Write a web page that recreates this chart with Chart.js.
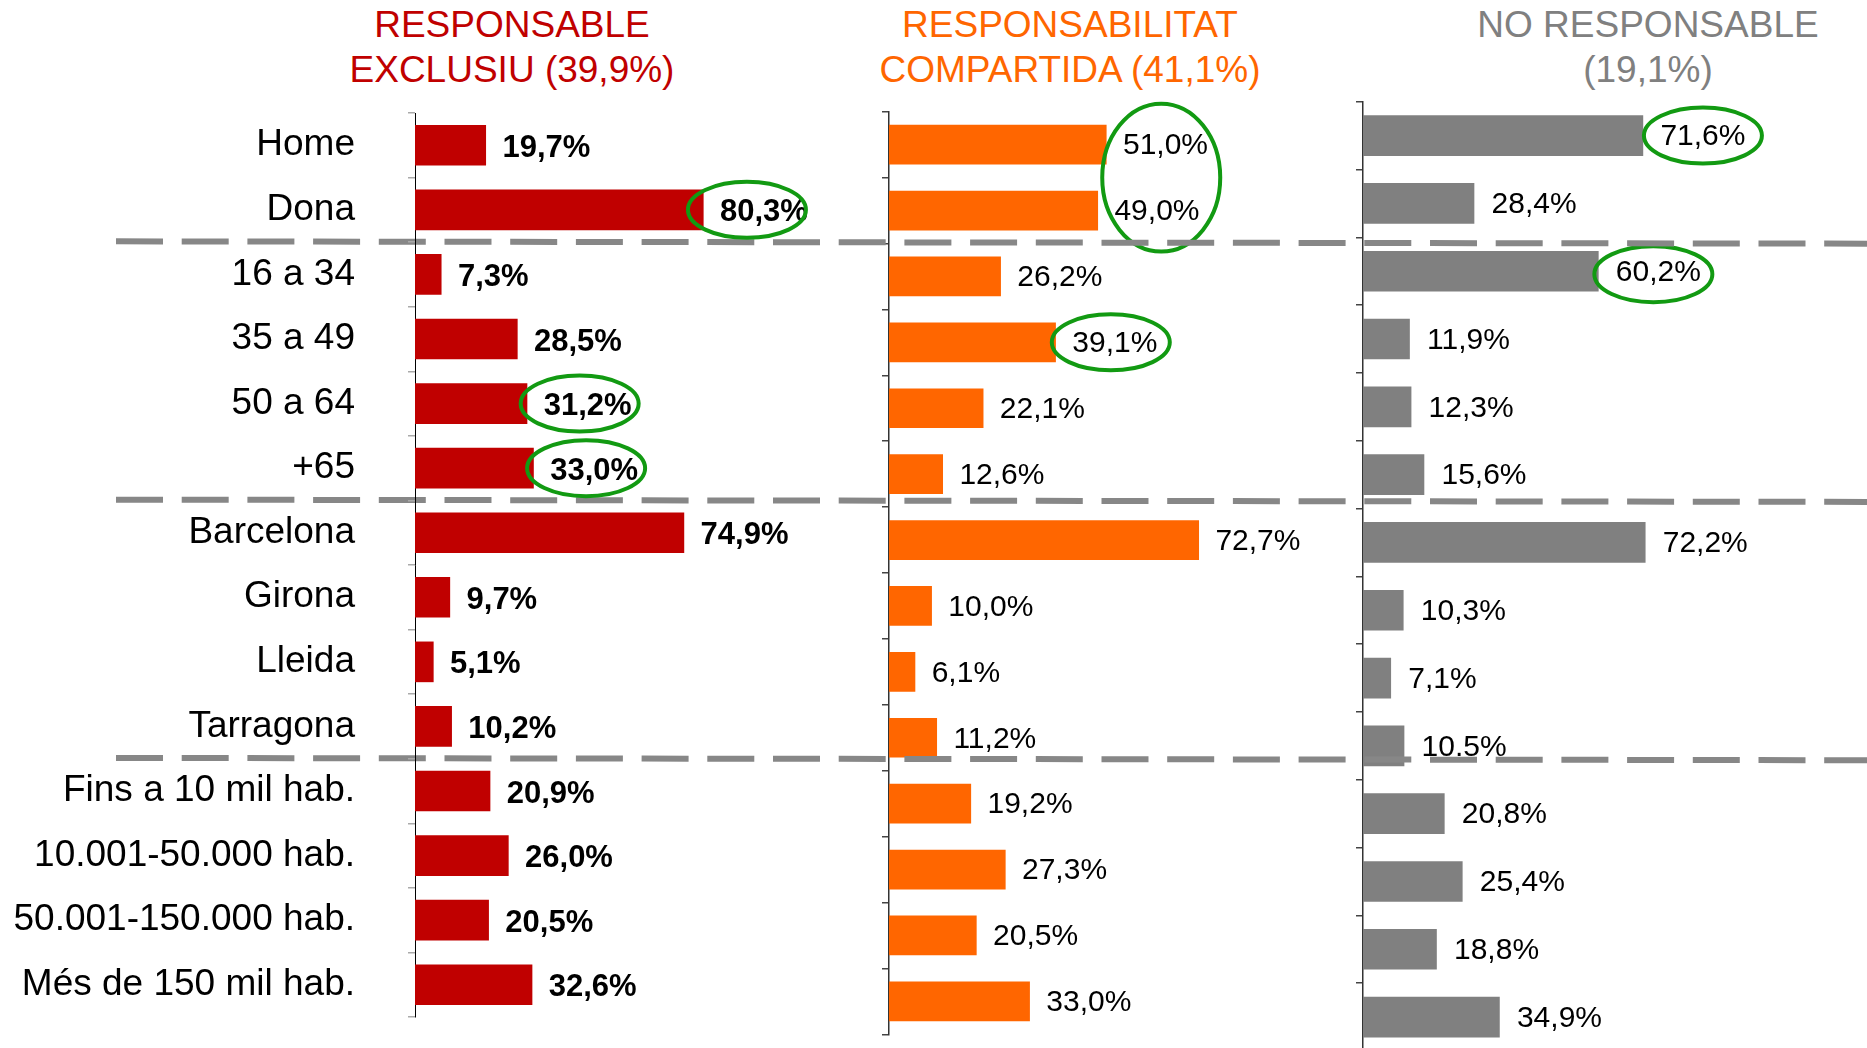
<!DOCTYPE html>
<html><head><meta charset="utf-8">
<script src="https://cdn.jsdelivr.net/npm/chart.js@4.4.1/dist/chart.umd.min.js"></script>
<style>
html,body{margin:0;padding:0;background:#fff;width:1867px;height:1048px;overflow:hidden;position:relative;}
canvas{position:absolute;left:0;top:0;}
.title{position:absolute;top:2px;width:600px;margin-left:-300px;text-align:center;font:37px "Liberation Sans",Arial,sans-serif;line-height:45px;white-space:nowrap;}
</style></head><body>
<div class="title" id="t0" style="left:512px;color:#C00000"></div>
<div class="title" id="t1" style="left:1070px;color:#FF6600"></div>
<div class="title" id="t2" style="left:1648px;color:#808080"></div>
<canvas id="cOrange" width="1867" height="1120" style="z-index:1"></canvas>
<canvas id="cGrey" width="1867" height="1140" style="z-index:2"></canvas>
<canvas id="cRed" width="1867" height="1110" style="z-index:3"></canvas>
<script>
// ---- data ----
const categories = ['Home','Dona','16 a 34','35 a 49','50 a 64','+65','Barcelona','Girona','Lleida','Tarragona',
  'Fins a 10 mil hab.','10.001-50.000 hab.','50.001-150.000 hab.','Més de 150 mil hab.'];
const exclusiu     = [19.7, 80.3, 7.3, 28.5, 31.2, 33.0, 74.9, 9.7, 5.1, 10.2, 20.9, 26.0, 20.5, 32.6];
const compartida   = [51.0, 49.0, 26.2, 39.1, 22.1, 12.6, 72.7, 10.0, 6.1, 11.2, 19.2, 27.3, 20.5, 33.0];
const noResponsable= [71.6, 28.4, 60.2, 11.9, 12.3, 15.6, 72.2, 10.3, 7.1, 10.5, 20.8, 25.4, 18.8, 34.9];
const titles = [['RESPONSABLE','EXCLUSIU (39,9%)'],['RESPONSABILITAT','COMPARTIDA (41,1%)'],['NO RESPONSABLE','(19,1%)']];
const groupStarts = [2, 6, 10];
const labelOverrides = [{}, {}, {9: '10.5%'}];
const circled = [
  [{idx:[1],dx:-17,dy:0},{idx:[4],dx:-8,dy:0},{idx:[5],dx:-8,dy:0}],
  [{idx:[0,1],dx:0,dy:0},{idx:[3],dx:-4,dy:0}],
  [{idx:[0],dx:0,dy:0},{idx:[2],dx:-5,dy:3}]
];

titles.forEach((t,i)=>{ document.getElementById('t'+i).innerHTML = t.join('<br>'); });

const FAMILY = '"Liberation Sans", Arial, sans-serif';
function fmt(v){ return v.toFixed(1).replace('.', ',') + '%'; }

function labelPlugin(values, overrides, circles, font, gap, dy){
  return {
    id:'valueLabels',
    afterDatasetsDraw(chart){
      const ctx = chart.ctx, meta = chart.getDatasetMeta(0);
      ctx.save();
      ctx.font = font; ctx.fillStyle = '#000'; ctx.textAlign = 'left'; ctx.textBaseline = 'middle';
      const pos = [];
      meta.data.forEach((bar,i)=>{
        const txt = overrides[i] !== undefined ? overrides[i] : fmt(values[i]);
        const x = bar.x + gap, y = bar.y + dy;
        ctx.fillText(txt, x, y);
        pos.push({cx: x + ctx.measureText(txt).width/2, y: bar.y});
      });
      ctx.strokeStyle = '#129a12'; ctx.lineWidth = 4;
      circles.forEach(c=>{
        const ps = c.idx.map(i=>pos[i]);
        const cx = ps.reduce((s,p)=>s+p.cx,0)/ps.length + c.dx;
        const ys = ps.map(p=>p.y);
        const cy = (Math.min(...ys)+Math.max(...ys))/2 + c.dy;
        const ry = ps.length>1 ? (Math.max(...ys)-Math.min(...ys))/2 + 41 : 28;
        ctx.beginPath(); ctx.ellipse(cx, cy, 59, ry, 0, 0, Math.PI*2); ctx.stroke();
      });
      ctx.restore();
    }
  };
}

const separatorPlugin = {
  id:'separators',
  beforeDraw(chart){
    const y = chart.scales.y, ctx = chart.ctx;
    ctx.save();
    ctx.strokeStyle = '#878787'; ctx.lineWidth = 6; ctx.setLineDash([47, 18.7]);
    groupStarts.forEach(g=>{
      const yy = (y.getPixelForValue(g-1) + y.getPixelForValue(g)) / 2;
      ctx.beginPath(); ctx.moveTo(116, yy - 0.8); ctx.lineTo(chart.width, yy + 1.5); ctx.stroke();
    });
    ctx.restore();
  }
};

function makeChart(id, p){
  const canvas = document.getElementById(id);
  const W = canvas.width, H = canvas.height;
  const yW = p.showTicks ? p.left : 20;
  const areaW = 100 * p.pxPer;
  const plugins = [labelPlugin(p.values, p.overrides, p.circles, p.font, p.gap, p.dy)];
  if (p.separators) plugins.push(separatorPlugin);
  return new Chart(canvas, {
    type:'bar',
    data:{ labels: categories, datasets:[{ data: p.values, backgroundColor: p.color, borderWidth:0, barThickness: p.thick }] },
    options:{
      indexAxis:'y', responsive:false, animation:false, devicePixelRatio:1,
      layout:{ padding:{ left: p.left - yW, top: p.top, bottom: H - p.bottom, right: W - p.left - areaW } },
      plugins:{ legend:{display:false}, tooltip:{enabled:false}, title:{display:false} },
      scales:{
        x:{ display:false, min:0, max:100 },
        y:{ type:'category', offset:true,
            afterFit(scale){ scale.width = yW; },
            border:{ display:true, color:p.axisColor, width:p.axisWidth },
            grid:{ drawOnChartArea:false, drawTicks:true, tickLength:7, offset:true, color:p.tickColor, lineWidth:1.5 },
            ticks:{ display:true, autoSkip:false, padding: p.showTicks ? 53 : 0, color:'#000',
                    font:{ family: FAMILY, size: p.showTicks ? 37 : 10 },
                    callback: p.showTicks ? function(v){ return this.getLabelForValue(v); } : function(){ return ''; } }
        }
      }
    },
    plugins
  });
}

makeChart('cOrange', { values: compartida, overrides: labelOverrides[1], circles: circled[1], color:'#FF6600',
  left:889, top:111.7, bottom:1034.3, pxPer:4.26, thick:39, font:'30px '+FAMILY, gap:16.7, dy:1.5,
  showTicks:false, axisColor:'#333', axisWidth:1.5, tickColor:'#444' });
makeChart('cGrey', { values: noResponsable, overrides: labelOverrides[2], circles: circled[2], color:'#808080',
  left:1363, top:101.7, bottom:1051, pxPer:3.909, thick:40, font:'30px '+FAMILY, gap:17.5, dy:1.5,
  showTicks:false, axisColor:'#333', axisWidth:1.5, tickColor:'#444' });
makeChart('cRed', { values: exclusiu, overrides: labelOverrides[0], circles: circled[0], color:'#C00000',
  left:415, top:113, bottom:1017, pxPer:3.59, thick:40, font:'bold 31px '+FAMILY, gap:16.7, dy:3,
  showTicks:true, axisColor:'#000', axisWidth:1, tickColor:'#aaa', separators:true });
</script>
</body></html>
